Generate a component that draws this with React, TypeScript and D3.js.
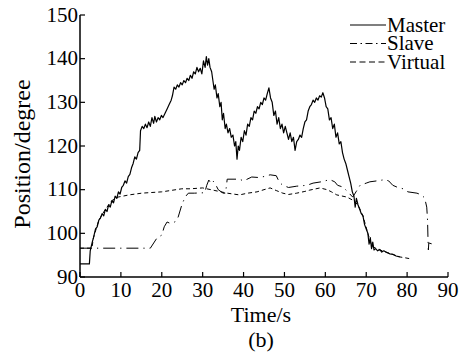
import React from "react";
import * as d3 from "d3";

const xTicks = [0, 10, 20, 30, 40, 50, 60, 70, 80, 90];
const yTicks = [90, 100, 110, 120, 130, 140, 150];
const seriesNames = ["Master", "Slave", "Virtual"];

const master: [number, number][] = [
  [0, 93], [2.3, 93], [2.5, 96], [3, 98], [3.3, 99], [3.8, 101], [4.2, 101.5], [4.6, 103], [5, 103.5], [5.4, 104.5], [5.8, 104],
  [6.2, 105.5], [6.6, 105], [7, 106.5], [7.4, 106], [7.8, 107.5], [8.2, 107], [8.6, 108.5], [9, 108], [9.4, 109.5], [9.8, 109],
  [10.2, 110.5], [10.6, 111], [11, 112], [11.4, 111.5], [11.8, 113], [12.2, 113.5], [12.6, 115], [13, 116], [13.4, 117.5],
  [13.8, 117], [14.2, 118.5], [14.6, 119], [14.8, 123.5], [15.2, 124.5], [15.6, 124], [16, 125], [16.4, 124.2], [16.8, 125.5],
  [17.2, 124.5], [17.6, 126.5], [18, 125.2], [18.3, 126.8], [18.7, 125.5], [19.1, 126.5], [19.5, 126], [19.9, 127], [20.3, 126.5],
  [20.8, 127.5], [21.3, 128.5], [21.8, 129.5], [22.3, 130.5], [22.6, 131.5], [23, 133.5], [23.4, 133], [23.8, 134], [24.2, 133.5],
  [24.6, 134.5], [25, 134], [25.4, 135], [25.8, 134.5], [26.2, 135.5], [26.6, 135], [27, 136.2], [27.4, 135.5], [27.8, 137],
  [28.2, 136.5], [28.6, 138], [29, 137], [29.4, 137.8], [29.8, 136.5], [30.2, 139.5], [30.6, 138], [30.9, 140.5], [31.2, 138.5],
  [31.5, 140], [31.8, 138], [32.2, 137], [32.5, 135], [32.8, 133], [33.1, 134], [33.5, 131], [33.8, 132], [34.2, 129], [34.5, 130],
  [34.8, 126], [35.1, 127.5], [35.5, 124], [35.8, 125], [36.2, 123], [36.6, 124], [37, 122], [37.4, 122.5], [37.8, 120], [38.1, 121],
  [38.4, 117], [38.7, 120], [39, 119], [39.4, 122], [39.8, 121], [40.2, 123.5], [40.6, 122.5], [41, 125], [41.4, 124.5], [41.8, 126.5],
  [42.2, 126], [42.6, 128], [43, 127.5], [43.4, 129], [43.8, 128.5], [44.2, 130], [44.6, 129.5], [45, 131], [45.4, 130.5], [45.8, 132],
  [46.2, 133.3], [46.6, 131], [47, 130], [47.4, 127], [47.8, 128], [48.2, 125], [48.6, 126.5], [49, 124], [49.4, 125], [49.8, 123],
  [50.2, 124.5], [50.6, 123], [51, 121.5], [51.4, 123], [51.8, 121], [52.2, 122], [52.6, 119], [53, 121], [53.4, 121.5], [53.8, 122.5],
  [54.2, 122], [54.6, 124], [55, 125.5], [55.4, 126], [55.8, 128], [56.2, 129], [56.6, 129.5], [57, 130.5], [57.4, 130], [57.8, 131],
  [58.2, 130.5], [58.6, 131.5], [59, 131.2], [59.4, 132.2], [59.8, 131], [60.2, 129], [60.6, 128.5], [61, 126], [61.4, 126.5],
  [61.8, 124], [62.2, 125], [62.6, 122], [63, 123], [63.4, 120.5], [63.8, 121], [64.2, 118.5], [64.6, 117], [65, 116], [65.4, 114.5],
  [65.8, 113], [66.2, 111.5], [66.6, 109.5], [67, 108.5], [67.3, 106], [67.6, 108], [68, 106.5], [68.4, 105.5], [68.8, 104.5],
  [69.2, 104], [69.6, 102], [70, 101], [70.4, 100], [70.7, 97.5], [71, 99], [71.3, 96.5], [71.6, 98], [71.9, 96.2], [72.3, 96.5],
  [72.8, 96], [73.3, 96.3], [73.8, 95.7], [74.3, 96], [75, 95.6], [75.8, 95.3], [76.5, 95.2], [77.3, 94.8], [78.2, 94.6],
];

const slave: [number, number][] = [
  [0, 96.6], [17.2, 96.6], [18.8, 98.9], [20, 99.6], [20.6, 101.5], [21.3, 102.6], [22, 102.3], [23.2, 102.6], [24, 103.7],
  [24.9, 106.5], [25.7, 108.3], [26.5, 109.2], [28, 109.2], [30.5, 109.3], [31, 111], [31.5, 112.2], [32, 111.5], [32.5, 112],
  [33, 111.5], [33.8, 110], [35, 109.2], [35.6, 109.2], [36, 112.4], [39, 112.4], [40, 112], [42, 112.9], [43.5, 112.8], [45, 113],
  [46.5, 113.4], [48, 113.2], [48.6, 112], [49, 111.5], [49.6, 111], [51, 110.5], [53, 110.8], [55.5, 111], [57, 111.5], [59, 111.8],
  [61.1, 112.3], [62.3, 111.8], [63, 111], [64.3, 110.6], [65.5, 109.5], [66.7, 108.3], [67.5, 109.5], [68.5, 111], [70, 111.5],
  [70.9, 111.8], [72.5, 112], [74.6, 112.3], [75.5, 112], [76.5, 111], [77.5, 110.6], [79, 110.2], [80.2, 109.5], [82.4, 109.2],
  [83.5, 108.8], [84.3, 108.1], [84.8, 106], [85, 103], [85.1, 99], [85.2, 96.2], [85.3, 97.8], [86, 97.6],
];

const virtual: [number, number][] = [
  [0, 96.6], [2.9, 96.6], [3.3, 99], [4.6, 103], [6.2, 105.5], [7.8, 107.5], [9.3, 108.3], [12, 108.8], [15.1, 109.2], [20, 109.5],
  [24.9, 110.2], [27, 110.2], [30, 110.4], [33, 109.8], [36, 109.2], [39, 108.8], [41, 109.2], [43.3, 109.5], [45, 110], [46.5, 110.4],
  [48, 109.8], [49.6, 109.2], [51, 108.9], [53, 109.2], [55, 109.6], [56.2, 109.9], [58.7, 110.4], [60.4, 110], [61.5, 109.5],
  [62.8, 108.8], [65.3, 108.3], [66.7, 107.6], [68, 106.5], [69.2, 104], [70.4, 100], [71.4, 97], [73.3, 96.2], [75.8, 95.4],
  [78.2, 94.6], [79.5, 94.4], [81.2, 94.1],
];

const W = 460, H = 353;
const left = 80, right = 448, top = 15, bottom = 277;
const FONT = '"Liberation Serif"';
const txt = { fontFamily: FONT, fontSize: 21 } as React.CSSProperties;

export default function App() {
  const x = d3.scaleLinear().domain([0, 90]).range([left, right]);
  const y = d3.scaleLinear().domain([90, 150]).range([bottom, top]);
  const line = d3.line<[number, number]>().x((d) => x(d[0])).y((d) => y(d[1]));
  const series = [
    { name: seriesNames[0], data: master, dash: "none", width: 1.2, lgDash: "none" },
    { name: seriesNames[1], data: slave, dash: "12,5,1.2,5", width: 1, lgDash: "7,3.5,1.5,3.5" },
    { name: seriesNames[2], data: virtual, dash: "4,3", width: 1, lgDash: "6,3.5" },
  ];
  return (
    <svg width={W} height={H} style={{ position: "absolute", left: 0, top: 0, background: "#fff" }}>
      <rect x={0} y={0} width={W} height={H} fill="#fff" />
      {series.map((s) => (
        <path key={s.name} d={line(s.data) || ""} fill="none" stroke="#000" strokeWidth={s.width} strokeDasharray={s.dash} strokeLinejoin="round" />
      ))}
      <line x1={left} x2={left} y1={top} y2={bottom} stroke="#000" strokeWidth={1.5} />
      <line x1={left} x2={right} y1={bottom} y2={bottom} stroke="#000" strokeWidth={1.5} />
      {yTicks.map((t) => (
        <g key={"y" + t}>
          <line x1={left} x2={left + 5} y1={y(t)} y2={y(t)} stroke="#000" strokeWidth={1.2} />
          <text x={left - 2} y={y(t) + 6.5} textAnchor="end" style={txt}>{t}</text>
        </g>
      ))}
      {xTicks.map((t) => (
        <g key={"x" + t}>
          <line x1={x(t)} x2={x(t)} y1={bottom} y2={bottom - 5} stroke="#000" strokeWidth={1.2} />
          <text x={x(t)} y={297} textAnchor="middle" style={txt}>{t}</text>
        </g>
      ))}
      <text x={261} y={322} textAnchor="middle" style={{ fontFamily: FONT, fontSize: 22 }}>Time/s</text>
      <text x={261} y={347} textAnchor="middle" style={{ fontFamily: FONT, fontSize: 22 }}>(b)</text>
      <text transform={`translate(30,154) rotate(-90)`} textAnchor="middle" style={{ fontFamily: FONT, fontSize: 24 }}>Position/degree</text>
      {series.map((s, i) => (
        <g key={"lg" + s.name}>
          <line x1={350} x2={386} y1={25 + i * 18.5} y2={25 + i * 18.5} stroke="#000" strokeWidth={1.1} strokeDasharray={s.lgDash} />
          <text x={387} y={25 + i * 18.5 + 6.5} style={{ fontFamily: FONT, fontSize: 21 }}>{s.name}</text>
        </g>
      ))}
    </svg>
  );
}
